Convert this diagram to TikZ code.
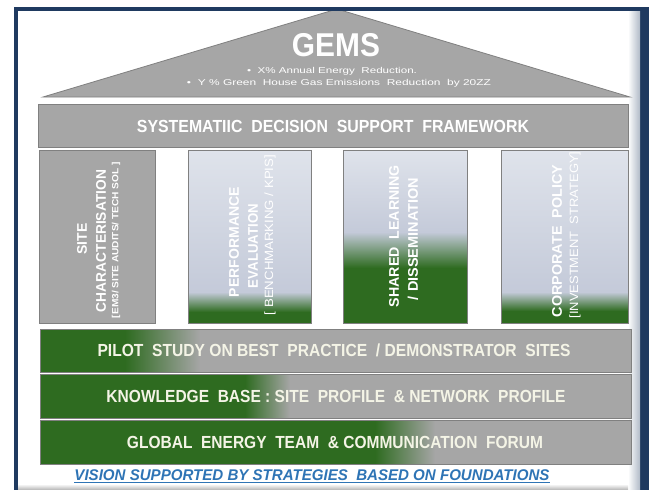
\documentclass[tikz,border=0pt]{standalone}
\usepackage{fontspec}
\setmainfont{Liberation Sans}
\usepackage{graphicx}
\definecolor{navy}{HTML}{1F3A60}
\definecolor{pgray}{HTML}{A6A6A6}
\definecolor{pborder}{HTML}{808080}
\definecolor{pgreen}{HTML}{2E6B20}
\definecolor{coltop}{HTML}{DFE3EB}
\definecolor{colmid}{HTML}{C4CAD9}
\definecolor{cream}{HTML}{F4F4E6}
\definecolor{vblue}{HTML}{2E74B5}
\newcommand{\fitw}[2]{\resizebox{#1pt}{\height}{#2}}
\newcommand{\pillar}[4]{%
  \shade[top color=coltop, bottom color=colmid] (#1,150) rectangle (#2,#3);
  \shade[top color=colmid, bottom color=pgreen] (#1,#3) rectangle (#2,#4);
  \fill[pgreen] (#1,#4) rectangle (#2,323);
  \draw[edge] (#1,150) rectangle (#2,323);}
\newcommand{\band}[4]{%
  \fill[pgreen] (40,#1) rectangle (#3,#2);
  \shade[left color=pgreen, right color=pgray] (#3,#1) rectangle (#4,#2);
  \fill[pgray] (#4,#1) rectangle (631,#2);
  \draw[edge] (40,#1) rectangle (631,#2);}

\begin{document}
\begin{tikzpicture}[x=1pt,y=-1pt,
  edge/.style={draw=pborder,line width=0.8pt},
  bartext/.style={text=cream,inner sep=0pt,font=\bfseries\fontsize{17.5}{19}\selectfont},
  coltext/.style={text=white,inner sep=0pt,rotate=90,font=\bfseries\fontsize{14}{15}\selectfont},
  colsub/.style={text=white,inner sep=0pt,rotate=90,font=\fontsize{12}{13}\selectfont}]
\useasboundingbox (0,0) rectangle (649,490);
\fill[white] (0,0) rectangle (649,490);
  \fill[navy] (14,7) rectangle (649,490);
  \fill[white] (18,11) rectangle (640,490);
     \shade[left color=white, right color=navy!35] (628,11) rectangle (640,490);
     \shade[top color=white, bottom color=black!30] (18,484) rectangle (628,490);
  \filldraw[fill=pgray,edge] (43,97) -- (337,9) -- (630,97) -- cycle;
  \fill[navy] (18,7) rectangle (640,11);
  \filldraw[fill=pgray,edge] (38,104) rectangle (628,147);
\node (gems) at (336,45)[text=white,inner sep=0pt,font=\bfseries\fontsize{33}{36}\selectfont]{\fitw{88}{GEMS}};
\node (goala) at (332,71)[text=white,inner sep=0pt,font=\fontsize{8.5}{9}\selectfont]{\fitw{170}{\textbullet\ \ X\% Annual Energy\ \ Reduction.}};
\node (goalb) at (339,83)[text=white,inner sep=0pt,font=\fontsize{8.5}{9}\selectfont]{\fitw{304}{\textbullet\ \ Y \% Green\ \ House Gas Emissions\ \ Reduction\ \ by 20ZZ}};
\node (sdsf) at (333,126)[bartext,text=white]{\fitw{392}{SYSTEMATIIC\ \ DECISION\ \ SUPPORT\ \ FRAMEWORK}};
  \filldraw[fill=pgray,edge] (39,150) rectangle (155,323);
  \pillar{188}{311}{292}{312}
  \pillar{343}{467}{232}{268}
  \pillar{501}{628}{292}{311}
\node (sitea) at (82,239)[coltext]{\fitw{31}{SITE}};
\node (siteb) at (101,241)[coltext]{\fitw{142}{CHARACTERISATION}};
\node (sitec) at (116,240)[coltext,font=\bfseries\fontsize{9}{10}\selectfont]{\fitw{156}{[EM3/ SITE AUDITS/ TECH SOL ]}};
\node (perfa) at (234,242)[coltext]{\fitw{110}{PERFORMANCE}};
\node (perfb) at (253,246)[coltext]{\fitw{84}{EVALUATION}};
\node (perfc) at (270,235)[colsub]{\fitw{160}{[ BENCHMARKING / KPIS]}};
\node (sharea) at (394,236)[coltext]{\fitw{142}{SHARED\ \ LEARNING}};
\node (shareb) at (413,239)[coltext]{\fitw{122}{/ DISSEMINATION}};
\node (corpa) at (557,241)[coltext]{\fitw{152}{CORPORATE\ \ POLICY}};
\node (corpb) at (575,235)[colsub]{\fitw{167}{[INVESTMENT\ \ STRATEGY]}};
  \band{329}{372}{125}{200}
  \band{374}{418}{245}{290}
  \band{420}{464}{375}{435}
\node (pilot) at (334,350)[bartext]{\fitw{473}{PILOT\ \ STUDY ON BEST\ \ PRACTICE\ \ / DEMONSTRATOR\ \ SITES}};
\node (kbase) at (336,396)[bartext]{\fitw{459}{KNOWLEDGE\ \ BASE : SITE\ \ PROFILE\ \ \& NETWORK\ \ PROFILE}};
\node (forum) at (335,442)[bartext]{\fitw{416}{GLOBAL\ \ ENERGY\ \ TEAM\ \ \& COMMUNICATION\ \ FORUM}};
\node (vision) at (312,476)[text=vblue,inner sep=0pt,font=\bfseries\itshape\fontsize{15.5}{16}\selectfont]{\underline{\fitw{475}{VISION SUPPORTED BY STRATEGIES\ \ BASED ON FOUNDATIONS}}};
\end{tikzpicture}
\end{document}
